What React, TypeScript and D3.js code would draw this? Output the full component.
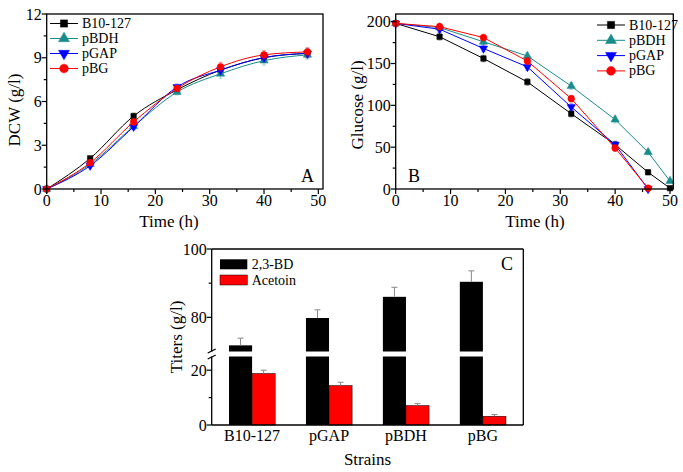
import React from "react";
import * as d3 from "d3";

const FONT = "Times New Roman, Liberation Serif, Tinos, Times, serif";
const TEAL = "#1a8c8c";

// ---- Panel A: DCW ----
const timeA = [0, 8, 16, 24, 32, 40, 48];
const dcwB10 = [0, 2.1, 5.0, 6.8, 8.15, 9.0, 9.3];
const dcwBDH = [0, 1.7, 4.3, 6.65, 7.9, 8.8, 9.2];
const dcwGAP = [0, 1.6, 4.27, 7.0, 8.15, 9.02, 9.3];
const dcwBG = [0, 1.8, 4.6, 6.9, 8.38, 9.2, 9.4];
const dcwErr = [0, 0.15, 0.2, 0.2, 0.3, 0.3, 0.3];

// ---- Panel B: glucose ----
const timeLong = [0, 8, 16, 24, 32, 40, 46, 50];
const timeShort = [0, 8, 16, 24, 32, 40, 46];
const glcB10 = [198, 182, 156, 128, 90, 53, 20, 1];
const glcBDH = [198, 193, 176, 159, 123, 83, 44, 9.5];
const glcGAP = [198, 191, 168, 146, 98, 53, 0];
const glcBG = [198, 194, 181, 153, 108, 49, 1];
const glcErr = [2, 4, 4, 4, 4, 4, 3, 2];

// ---- Panel C: titers ----
const strains = ["B10-127", "pGAP", "pBDH", "pBG"];
const bdTiter = [71.8, 79.8, 86.0, 90.4];
const bdErr = [2.1, 2.4, 2.8, 3.2];
const acetoinTiter = [18.8, 14.4, 7.1, 3.2];
const acetoinErr = [1.2, 1.2, 0.7, 0.6];

const legendNames = ["B10-127", "pBDH", "pGAP", "pBG"];
const legendColors = ["#000", TEAL, "#0000ff", "#ff0000"];
const legendShapes = ["square", "triangle", "down", "circle"];

function symbolPath(shape: string, size: number) {
  const t =
    shape === "square"
      ? d3.symbolSquare
      : shape === "circle"
      ? d3.symbolCircle
      : d3.symbolTriangle;
  return d3.symbol().type(t).size(size)() || "";
}

function Marker({ shape, x, y, color, size }: any) {
  return (
    <path
      d={symbolPath(shape, size)}
      transform={`translate(${x},${y})${shape === "down" ? " rotate(180)" : ""}`}
      fill={color}
      stroke={color}
      strokeWidth={0.5}
    />
  );
}

function LinePanel({ box, xMax, yMax, xMajor, xMinor, yMajor, yMinor, series, curve, legend, letter, xTitle, yTitle }: any) {
  const x = d3.scaleLinear().domain([0, xMax]).range([box.left, box.right]);
  const y = d3.scaleLinear().domain([0, yMax]).range([box.bottom, box.top]);
  const line = d3
    .line<[number, number]>()
    .x((d) => x(d[0]))
    .y((d) => y(d[1]))
    .curve(curve);
  return (
    <g>
      {/* data */}
      {series.map((s: any) => {
        const pts: [number, number][] = s.xs.map((t: number, i: number) => [t, s.ys[i]]);
        return (
          <g key={s.name}>
            {s.xs.map((t: number, i: number) =>
              s.err[i] > 0 ? (
                <g key={i} stroke={s.color} strokeOpacity={0.45} strokeWidth={0.8}>
                  <line x1={x(t)} x2={x(t)} y1={y(s.ys[i] - s.err[i])} y2={y(s.ys[i] + s.err[i])} />
                  <line x1={x(t) - 2} x2={x(t) + 2} y1={y(s.ys[i] - s.err[i])} y2={y(s.ys[i] - s.err[i])} />
                  <line x1={x(t) - 2} x2={x(t) + 2} y1={y(s.ys[i] + s.err[i])} y2={y(s.ys[i] + s.err[i])} />
                </g>
              ) : null
            )}
            <path d={line(pts) || ""} fill="none" stroke={s.color} strokeWidth={1} />
            {s.xs.map((t: number, i: number) => (
              <Marker key={i} shape={s.shape} x={x(t)} y={y(s.ys[i])} color={s.color} size={s.shape === "circle" ? 36 : 30} />
            ))}
          </g>
        );
      })}
      {/* frame */}
      <rect x={box.left} y={box.top} width={box.right - box.left} height={box.bottom - box.top} fill="none" stroke="#000" strokeWidth={1.3} />
      {/* x ticks */}
      {xMajor.map((v: number) => (
        <g key={"xm" + v}>
          <line x1={x(v)} x2={x(v)} y1={box.bottom} y2={box.bottom + 5} stroke="#000" strokeWidth={1.2} />
          <text x={x(v)} y={box.bottom + 17} textAnchor="middle" fontSize={16}>{v}</text>
        </g>
      ))}
      {xMinor.map((v: number) => (
        <line key={"xn" + v} x1={x(v)} x2={x(v)} y1={box.bottom} y2={box.bottom + 3} stroke="#000" strokeWidth={1.2} />
      ))}
      {yMajor.map((v: number) => (
        <g key={"ym" + v}>
          <line x1={box.left - 5} x2={box.left} y1={y(v)} y2={y(v)} stroke="#000" strokeWidth={1.2} />
          <text x={box.left - 5} y={y(v) + 5.5} textAnchor="end" fontSize={16}>{v}</text>
        </g>
      ))}
      {yMinor.map((v: number) => (
        <line key={"yn" + v} x1={box.left - 3} x2={box.left} y1={y(v)} y2={y(v)} stroke="#000" strokeWidth={1.2} />
      ))}
      {/* titles */}
      <text x={xTitle.x} y={xTitle.y} textAnchor="middle" fontSize={17}>{xTitle.text}</text>
      <text transform={`translate(${yTitle.x},${yTitle.y}) rotate(-90)`} textAnchor="middle" fontSize={17}>{yTitle.text}</text>
      <text x={letter.x} y={letter.y} fontSize={18}>{letter.text}</text>
      {/* legend */}
      {legendNames.map((n, i) => {
        const ly = legend.y + i * legend.step;
        return (
          <g key={n}>
            <line x1={legend.x} x2={legend.x + 28} y1={ly} y2={ly} stroke={legendColors[i]} strokeWidth={1} />
            <Marker shape={legendShapes[i]} x={legend.x + 14} y={ly} color={legendColors[i]} size={legendShapes[i] === "circle" ? 60 : 52} />
            <text x={legend.x + 32} y={ly + 4.5} fontSize={14}>{n}</text>
          </g>
        );
      })}
    </g>
  );
}

function BarPanel() {
  const box = { left: 211.7, right: 523.3, top: 249, bottom: 425 };
  const yLow = d3.scaleLinear().domain([0, 25]).range([425, 356.5]);
  const yHigh = d3.scaleLinear().domain([70, 100]).range([351.5, 249]);
  const x0 = d3.scaleBand().domain(strains).range([box.left, box.right]).paddingInner(0.4).paddingOuter(0.225);
  const x1 = d3.scaleBand().domain(["bd", "ac"]).range([0, x0.bandwidth()]);
  const bw = x1.bandwidth();
  return (
    <g>
      {strains.map((s, i) => {
        const bx = (x0(s) || 0) + (x1("bd") || 0);
        const ax = (x0(s) || 0) + (x1("ac") || 0);
        const bdTop = yHigh(bdTiter[i]);
        const acTop = yLow(acetoinTiter[i]);
        return (
          <g key={s}>
            <rect x={bx} y={yLow(25)} width={bw} height={425 - yLow(25)} fill="#000" />
            <rect x={bx} y={bdTop} width={bw} height={yHigh(70) - bdTop} fill="#000" />
            <rect x={ax} y={acTop} width={bw} height={425 - acTop} fill="#ff0000" stroke="#000" strokeWidth={0.5} />
            <g stroke="#888" strokeWidth={1}>
              <line x1={bx + bw / 2} x2={bx + bw / 2} y1={bdTop} y2={yHigh(bdTiter[i] + bdErr[i])} />
              <line x1={bx + bw / 2 - 3} x2={bx + bw / 2 + 3} y1={yHigh(bdTiter[i] + bdErr[i])} y2={yHigh(bdTiter[i] + bdErr[i])} />
              <line x1={ax + bw / 2} x2={ax + bw / 2} y1={acTop} y2={yLow(acetoinTiter[i] + acetoinErr[i])} />
              <line x1={ax + bw / 2 - 3} x2={ax + bw / 2 + 3} y1={yLow(acetoinTiter[i] + acetoinErr[i])} y2={yLow(acetoinTiter[i] + acetoinErr[i])} />
            </g>
            <text x={bx + bw} y={441} textAnchor="middle" fontSize={16}>{s}</text>
          </g>
        );
      })}
      {/* frame with break on left axis */}
      <g stroke="#000" strokeWidth={1.3} fill="none">
        <line x1={box.left} x2={box.right} y1={box.top} y2={box.top} />
        <line x1={box.left} x2={box.right} y1={box.bottom} y2={box.bottom} />
        <line x1={box.right} x2={box.right} y1={box.top} y2={box.bottom} />
        <line x1={box.left} x2={box.left} y1={box.top} y2={yHigh(70)} />
        <line x1={box.left} x2={box.left} y1={yLow(25)} y2={box.bottom} />
        <line x1={box.left - 4} x2={box.left + 4} y1={yHigh(70) + 1.5} y2={yHigh(70) - 2.5} />
        <line x1={box.left - 4} x2={box.left + 4} y1={yLow(25) + 2.5} y2={yLow(25) - 1.5} />
      </g>
      {[0, 20].map((v) => (
        <g key={"l" + v}>
          <line x1={box.left - 5} x2={box.left} y1={yLow(v)} y2={yLow(v)} stroke="#000" strokeWidth={1.2} />
          <text x={box.left - 5} y={yLow(v) + 5.5} textAnchor="end" fontSize={16}>{v}</text>
        </g>
      ))}
      {[80, 100].map((v) => (
        <g key={"h" + v}>
          <line x1={box.left - 5} x2={box.left} y1={yHigh(v)} y2={yHigh(v)} stroke="#000" strokeWidth={1.2} />
          <text x={box.left - 5} y={yHigh(v) + 5.5} textAnchor="end" fontSize={16}>{v}</text>
        </g>
      ))}
      <line x1={box.left - 3} x2={box.left} y1={yLow(10)} y2={yLow(10)} stroke="#000" strokeWidth={1.2} />
      <line x1={box.left - 3} x2={box.left} y1={yHigh(90)} y2={yHigh(90)} stroke="#000" strokeWidth={1.2} />
      {/* legend */}
      <rect x={220} y={259.3} width={27.3} height={10} fill="#000" />
      <text x={251.7} y={268.8} fontSize={14}>2,3-BD</text>
      <rect x={220} y={275} width={27.3} height={10} fill="#ff0000" stroke="#000" strokeWidth={0.5} />
      <text x={251.7} y={284.5} fontSize={14}>Acetoin</text>
      <text x={501} y={270} fontSize={18}>C</text>
      <text x={367.5} y={465} textAnchor="middle" fontSize={17}>Strains</text>
      <text transform="translate(181.7,337) rotate(-90)" textAnchor="middle" fontSize={17}>Titers (g/l)</text>
    </g>
  );
}

export default function App() {
  const seriesA = [
    { name: "B10-127", color: "#000", shape: "square", xs: timeA, ys: dcwB10, err: dcwErr },
    { name: "pBDH", color: TEAL, shape: "triangle", xs: timeA, ys: dcwBDH, err: dcwErr },
    { name: "pGAP", color: "#0000ff", shape: "down", xs: timeA, ys: dcwGAP, err: dcwErr },
    { name: "pBG", color: "#ff0000", shape: "circle", xs: timeA, ys: dcwBG, err: dcwErr },
  ];
  const seriesB = [
    { name: "B10-127", color: "#000", shape: "square", xs: timeLong, ys: glcB10, err: glcErr },
    { name: "pBDH", color: TEAL, shape: "triangle", xs: timeLong, ys: glcBDH, err: glcErr },
    { name: "pGAP", color: "#0000ff", shape: "down", xs: timeShort, ys: glcGAP, err: glcErr },
    { name: "pBG", color: "#ff0000", shape: "circle", xs: timeShort, ys: glcBG, err: glcErr },
  ];
  return (
    <svg width={683} height={472} fontFamily={FONT} style={{ position: "absolute", left: 0, top: 0, background: "#fff" }}>
      <LinePanel
        box={{ left: 46.7, right: 323, top: 14, bottom: 189 }}
        xMax={50.86}
        yMax={12}
        xMajor={[0, 10, 20, 30, 40, 50]}
        xMinor={[5, 15, 25, 35, 45]}
        yMajor={[0, 3, 6, 9, 12]}
        yMinor={[1.5, 4.5, 7.5, 10.5]}
        series={seriesA}
        curve={d3.curveMonotoneX}
        legend={{ x: 50, y: 23.5, step: 15 }}
        letter={{ x: 301, y: 181.5, text: "A" }}
        xTitle={{ x: 169, y: 227, text: "Time (h)" }}
        yTitle={{ x: 20, y: 110, text: "DCW (g/l)" }}
      />
      <LinePanel
        box={{ left: 395.7, right: 673.3, top: 14, bottom: 189 }}
        xMax={50.6}
        yMax={209.2}
        xMajor={[0, 10, 20, 30, 40, 50]}
        xMinor={[5, 15, 25, 35, 45]}
        yMajor={[0, 50, 100, 150, 200]}
        yMinor={[25, 75, 125, 175]}
        series={seriesB}
        curve={d3.curveLinear}
        legend={{ x: 597, y: 25, step: 15.3 }}
        letter={{ x: 408, y: 181.5, text: "B" }}
        xTitle={{ x: 535, y: 227, text: "Time (h)" }}
        yTitle={{ x: 363, y: 105, text: "Glucose (g/l)" }}
      />
      <BarPanel />
    </svg>
  );
}
